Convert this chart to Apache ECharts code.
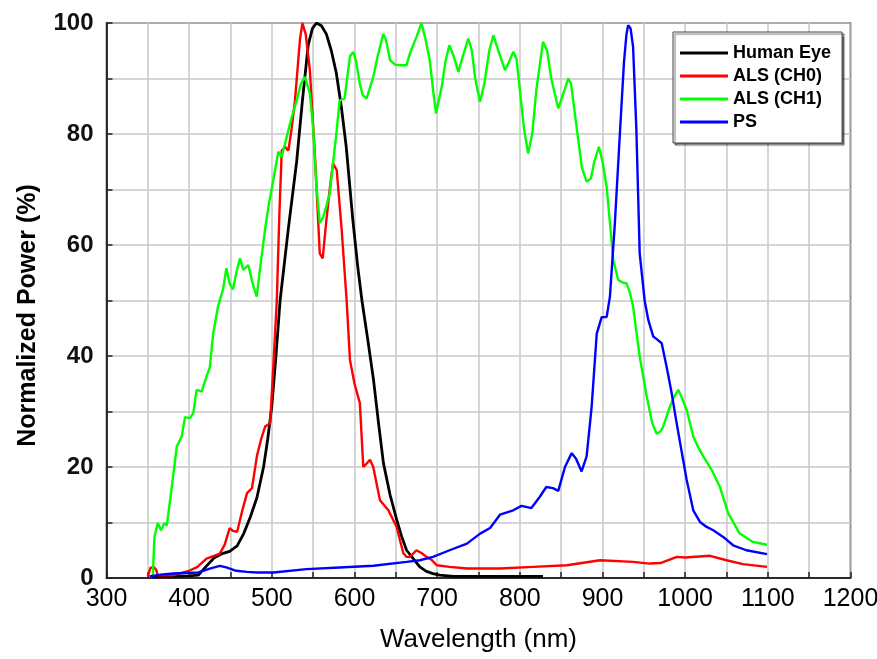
<!DOCTYPE html>
<html>
<head>
<meta charset="utf-8">
<script src="https://cdn.jsdelivr.net/npm/echarts@6/dist/echarts.min.js"></script>
<style>
  html, body { margin: 0; padding: 0; background: #fff; }
  #chart { width: 877px; height: 659px; }
</style>
</head>
<body>
<div id="chart"></div>
<script>
// Spectral response curves, normalized power (%) vs wavelength (nm)
const seriesNames = ['Human Eye', 'ALS (CH0)', 'ALS (CH1)', 'PS'];
const seriesColors = ['#000000', '#ff0000', '#00ff00', '#0000ff'];

const eyeWl = [355, 380, 400, 411, 420, 430, 440, 449, 458, 466, 474, 482, 490, 495, 500, 505, 510, 520, 530, 537, 544, 549, 554, 560, 566, 572, 578, 584, 590, 598, 604, 609, 616, 623, 629, 635, 643, 651, 657, 663, 671, 679, 687, 695, 703, 720, 760, 800, 828];
const eyeVal = [0.2, 0.3, 0.4, 0.5, 2, 3.6, 4.4, 4.8, 5.8, 8, 11, 14.5, 20, 25, 31, 40, 50, 63, 75, 86, 96, 99, 100, 99.5, 98, 95, 91, 85, 77.7, 64.5, 56, 50, 43, 35.7, 28, 20.7, 15, 10.5, 7.5, 5, 3.5, 2, 1.2, 0.8, 0.5, 0.3, 0.3, 0.3, 0.3];

const ch0Wl = [350, 353, 357, 360, 362, 380, 400, 410, 421, 430, 437, 443, 449, 453, 458, 464, 470, 476, 482, 487, 492, 498, 502, 506, 509, 512, 516, 520, 524, 528, 534, 537, 541, 546, 552, 558, 561.5, 566, 570, 574, 578.5, 584.5, 590.5, 594.5, 600, 606.5, 610.6, 614, 618.7, 622.7, 630.8, 641, 651, 655, 659, 663, 667, 675, 681, 687, 693, 699.5, 715, 736, 776, 816, 857, 897, 937, 957, 970, 990, 1000, 1030, 1050, 1070, 1099];
const ch0Val = [0.3, 1.8, 2, 1.5, 0.5, 0.5, 1.3, 2, 3.5, 4, 4.4, 6, 9, 8.5, 8.3, 12, 15.3, 16.2, 22, 25, 27.3, 27.9, 38.7, 50, 65, 77, 77.7, 77, 81, 86, 97, 100, 98, 91.5, 76.5, 58.5, 57.6, 64.5, 70, 74.7, 73.5, 62.7, 50, 39.3, 35, 31.5, 20, 20.5, 21.3, 20, 14, 12.2, 9.2, 6.8, 4.5, 3.8, 3.8, 5, 4.5, 3.8, 3.3, 2.3, 2, 1.7, 1.7, 2, 2.3, 3.2, 2.9, 2.6, 2.7, 3.8, 3.7, 4, 3.2, 2.5, 2];

const ch1Wl = [356, 358, 362, 366, 370, 373, 379, 385, 391, 395, 401, 405, 409, 415, 421, 425, 429, 435, 441, 445, 449, 453, 457, 461.5, 465.5, 471.5, 477, 481.7, 486, 491.7, 496, 501.8, 507.8, 512, 518, 524, 530, 535, 540, 546, 550, 554, 558, 562, 566, 570, 574, 578, 582, 588, 594.5, 598.5, 602, 606.5, 610, 614.6, 622.7, 628, 634.8, 638, 643, 649, 655, 663, 667, 675, 681, 686, 691, 695, 698.6, 705.5, 710, 714.7, 720, 725.6, 731, 737.7, 742, 746, 751.8, 757, 763, 768, 774, 782, 787, 792, 796, 800, 805, 810, 815, 820, 828, 833, 838, 846.5, 852, 858.6, 862, 868, 875, 880.8, 886, 890, 895.7, 900, 905, 909, 913, 919, 925, 929, 933, 937, 945, 953.5, 960, 965.5, 970, 973.5, 981.6, 986, 991.7, 996, 1001.8, 1009.8, 1016, 1022, 1032, 1042, 1052, 1066, 1082, 1099];
const ch1Val = [0.5, 7.4, 9.9, 8.6, 9.9, 9.5, 16.4, 23.7, 25.5, 29, 28.8, 29.7, 33.9, 33.6, 36.3, 38, 44, 49, 52, 55.8, 53, 52, 55, 57.6, 55.5, 56.4, 53, 50.7, 56, 62.7, 67, 71.7, 76.8, 75.9, 79.5, 83, 86, 89, 90.3, 87.3, 81, 70.5, 64, 65, 67, 69.3, 74.7, 80, 86, 86.4, 94, 94.8, 93, 89, 87, 86.4, 90.3, 94, 98, 97, 93.3, 92.5, 92.4, 92.4, 94.5, 97.5, 100, 97, 93.3, 88, 83.7, 88.5, 93, 96, 94, 91.2, 94, 97.2, 95, 90, 85.8, 89, 95, 97.8, 95, 91.5, 93, 94.8, 93.5, 88, 81, 76.5, 80, 88, 96.6, 95, 90, 84.6, 87, 90, 89, 82, 74, 71.4, 72, 75, 77.7, 75, 70.5, 64, 57.3, 53.7, 53.2, 53.1, 51.5, 48.9, 39.9, 32.7, 28, 26, 26.4, 27.3, 30.9, 32.5, 33.9, 32.5, 30.3, 25.5, 23.5, 21.9, 19.5, 16.4, 11.7, 8, 6.5, 6];

const psWl = [352, 365, 381, 411, 425, 437, 445, 457, 470, 482, 502, 542, 582, 623, 663, 679, 695, 715, 736, 752, 764, 776, 792, 802, 814, 824, 832, 840, 846.5, 854.6, 862.7, 868, 874.7, 880.8, 886.9, 893, 899, 905, 909, 915, 921, 926, 929, 931, 934, 937, 941, 945, 951, 955.4, 961.4, 966, 971.6, 977.6, 983.7, 989, 993.7, 1001.8, 1009.8, 1017.9, 1026, 1034, 1046, 1058, 1074, 1099];
const psVal = [0.3, 0.6, 0.8, 1, 1.7, 2.2, 1.9, 1.3, 1.1, 1, 1, 1.6, 1.9, 2.2, 2.9, 3.2, 3.8, 5, 6.2, 8, 9, 11.4, 12.2, 13, 12.6, 14.6, 16.4, 16.2, 15.7, 20, 22.5, 21.5, 19.2, 21.9, 30.9, 44, 47, 47, 50.7, 64, 80, 93, 98, 99.6, 99, 95.7, 80.7, 58.5, 50, 46.5, 43.5, 43, 42.3, 38, 33.3, 28.5, 24.5, 17.7, 12.2, 10.1, 9.2, 8.6, 7.4, 5.9, 5, 4.3];

const wavelengthSets = [eyeWl, ch0Wl, ch1Wl, psWl];
const valueSets = [eyeVal, ch0Val, ch1Val, psVal];

const FONT = '"Liberation Sans", Arial, sans-serif';

const chart = echarts.init(document.getElementById('chart'), null, { renderer: 'canvas' });

const series = seriesNames.map((name, i) => ({
  name: name,
  type: 'line',
  showSymbol: false,
  smooth: false,
  animation: false,
  lineStyle: { color: seriesColors[i], width: i === 0 ? 2.8 : 2.4 },
  itemStyle: { color: seriesColors[i] },
  data: wavelengthSets[i].map((w, k) => [w, valueSets[i][k]])
}));

chart.setOption({
  backgroundColor: '#ffffff',
  animation: false,
  grid: {
    left: 106.5, top: 23, right: 26.5, bottom: 81,
    outerBoundsMode: 'none', containLabel: false,
    show: true, borderColor: '#222', borderWidth: 1.5, backgroundColor: 'transparent'
  },
  legend: {
    data: seriesNames,
    orient: 'vertical',
    left: 673, top: 32,
    padding: [11, 11, 11, 7],
    itemWidth: 48, itemHeight: 3, itemGap: 3,
    icon: 'rect',
    backgroundColor: '#ffffff',
    borderColor: '#444', borderWidth: 1,
    shadowColor: 'rgba(0,0,0,0.55)', shadowBlur: 1, shadowOffsetX: 2, shadowOffsetY: 2,
    textStyle: { fontFamily: FONT, fontSize: 18, fontWeight: 'bold', color: '#000', lineHeight: 20 }
  },
  xAxis: {
    type: 'value', min: 300, max: 1200, interval: 50,
    name: 'Wavelength (nm)', nameLocation: 'middle', nameGap: 49,
    nameTextStyle: { fontFamily: FONT, fontSize: 26, color: '#000' },
    axisLine: { show: true, lineStyle: { color: '#000', width: 1.5 } },
    axisTick: { show: true, inside: true, length: 6, lineStyle: { color: '#222', width: 1.5 } },
    axisLabel: {
      fontFamily: FONT, fontSize: 25, color: '#000', margin: 9,
      formatter: v => (v % 100 === 0 ? String(v) : '')
    },
    splitLine: { show: true, lineStyle: { color: '#c8c8c8', width: 1.5 } }
  },
  yAxis: {
    type: 'value', min: 0, max: 100, interval: 10,
    name: 'Normalized Power (%)', nameLocation: 'middle', nameGap: 66,
    nameTextStyle: { fontFamily: FONT, fontSize: 25, fontWeight: 'bold', color: '#000', padding: [0, 30, 0, 0] },
    axisLine: { show: true, lineStyle: { color: '#000', width: 1.5 } },
    axisTick: { show: true, inside: true, length: 6, lineStyle: { color: '#222', width: 1.5 } },
    axisLabel: {
      fontFamily: FONT, fontSize: 24, fontWeight: 'bold', color: '#111', margin: 13,
      formatter: v => (v % 20 === 0 ? String(v) : '')
    },
    splitLine: { show: true, lineStyle: { color: '#c8c8c8', width: 1.5 } }
  },
  series: series
});
</script>
</body>
</html>
